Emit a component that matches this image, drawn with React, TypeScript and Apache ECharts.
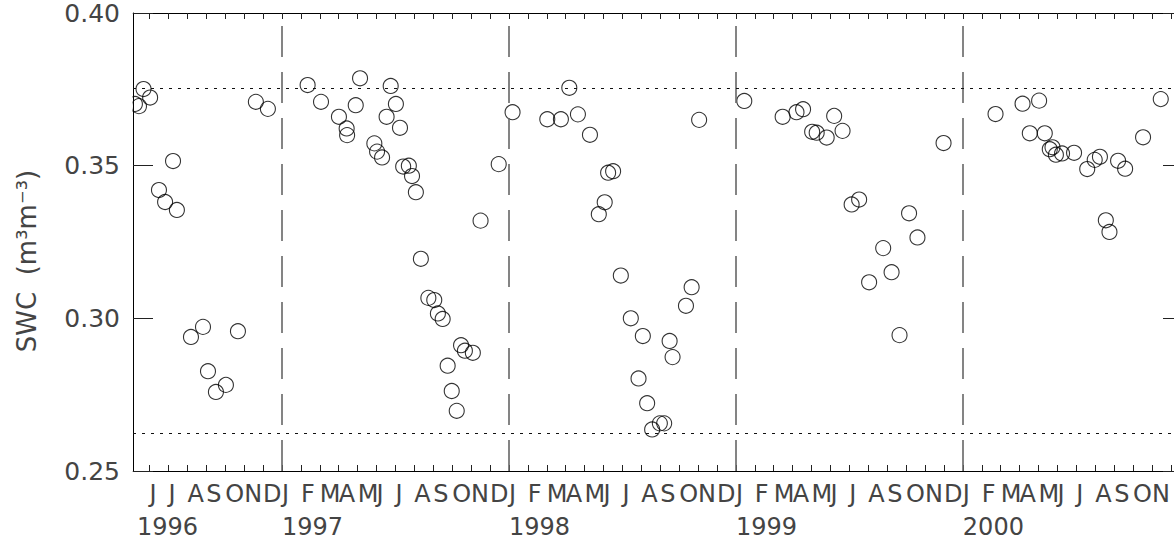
import React, { useEffect, useRef } from "react";
import * as echarts from "echarts";

// Observation times (decimal year) and soil water content (m3 m-3)
const t1996 = [1996.352, 1996.370, 1996.390, 1996.419, 1996.458, 1996.485, 1996.520, 1996.537, 1996.599, 1996.652, 1996.674, 1996.709, 1996.753, 1996.806, 1996.885, 1996.938];
const v1996 = [0.3702, 0.3695, 0.3751, 0.3723, 0.3420, 0.3381, 0.3515, 0.3355, 0.2939, 0.2972, 0.2827, 0.2759, 0.2782, 0.2958, 0.3709, 0.3686];

const t1997 = [1997.113, 1997.172, 1997.251, 1997.285, 1997.287, 1997.325, 1997.344, 1997.407, 1997.419, 1997.441, 1997.461, 1997.479, 1997.502, 1997.520, 1997.534, 1997.559, 1997.573, 1997.590, 1997.612, 1997.645, 1997.671, 1997.687, 1997.708, 1997.730, 1997.748, 1997.770, 1997.789, 1997.806, 1997.841, 1997.875, 1997.955];
const v1997 = [0.3764, 0.3709, 0.3660, 0.3622, 0.3600, 0.3698, 0.3786, 0.3573, 0.3546, 0.3527, 0.3660, 0.3761, 0.3702, 0.3624, 0.3497, 0.3500, 0.3466, 0.3413, 0.3195, 0.3067, 0.3060, 0.3016, 0.2998, 0.2845, 0.2762, 0.2697, 0.2912, 0.2894, 0.2887, 0.3320, 0.3505];

const t1998 = [1998.016, 1998.169, 1998.229, 1998.266, 1998.304, 1998.357, 1998.396, 1998.422, 1998.437, 1998.459, 1998.493, 1998.537, 1998.571, 1998.590, 1998.609, 1998.631, 1998.665, 1998.684, 1998.708, 1998.721, 1998.780, 1998.805, 1998.838];
const v1998 = [0.3675, 0.3652, 0.3652, 0.3755, 0.3668, 0.3601, 0.3341, 0.3380, 0.3477, 0.3482, 0.3140, 0.3000, 0.2803, 0.2942, 0.2722, 0.2636, 0.2656, 0.2656, 0.2926, 0.2873, 0.3041, 0.3102, 0.3650];

const t1999 = [1999.037, 1999.206, 1999.267, 1999.296, 1999.336, 1999.356, 1999.400, 1999.433, 1999.470, 1999.510, 1999.543, 1999.587, 1999.649, 1999.686, 1999.721, 1999.763, 1999.800, 1999.915];
const v1999 = [0.3712, 0.3660, 0.3675, 0.3685, 0.3611, 0.3608, 0.3592, 0.3663, 0.3614, 0.3373, 0.3389, 0.3118, 0.3230, 0.3151, 0.2945, 0.3344, 0.3265, 0.3574];

const t2000 = [2000.144, 2000.263, 2000.295, 2000.336, 2000.361, 2000.383, 2000.395, 2000.410, 2000.437, 2000.490, 2000.548, 2000.581, 2000.604, 2000.630, 2000.646, 2000.684, 2000.715, 2000.794, 2000.872];
const v2000 = [0.3669, 0.3703, 0.3606, 0.3713, 0.3606, 0.3554, 0.3560, 0.3536, 0.3540, 0.3542, 0.3489, 0.3519, 0.3529, 0.3321, 0.3283, 0.3516, 0.3490, 0.3593, 0.3718];

// Axis ranges, reference levels and tick labels
const X_MIN = 1996.3436;
const X_MAX = 2000.97;
const LAST_MONTH_LABEL = 2000.84; // November 2000 is the last visible month letter
const Y_MIN = 0.25;
const Y_MAX = 0.4;
const Y_STEP = 0.05;
const yearBreaks = [1997, 1998, 1999, 2000];
const refLevels = [0.3755, 0.2625];
const monthLetters = ["J", "F", "M", "A", "M", "J", "J", "A", "S", "O", "N", "D"];
const yearLabelValues = [1996.361, 1997, 1998, 1999, 2000];
const yTitle = "SWC  (m³m⁻³)";

const FONT = '"DejaVu Sans"';
const TEXT_COLOR = "#444";

export default function App() {
  const ref = useRef<HTMLDivElement>(null);

  useEffect(() => {
    if (!ref.current) return;
    const chart = echarts.init(ref.current, undefined, { renderer: "svg" });

    const times = [...t1996, ...t1997, ...t1998, ...t1999, ...t2000];
    const vals = [...v1996, ...v1997, ...v1998, ...v1999, ...v2000];
    const points = times.map((t, i) => [t, vals[i]]);

    const monthTicks: number[] = [];
    for (let y = 1996; y <= 2000; y++) {
      for (let m = 0; m < 12; m++) {
        const v = y + m / 12;
        if (v > X_MIN && v < X_MAX) monthTicks.push(v);
      }
    }
    const monthLabelVals = monthTicks.filter((v) => v < LAST_MONTH_LABEL);

    const commonX = {
      type: "value" as const,
      min: X_MIN,
      max: X_MAX,
      splitLine: { show: false },
    };

    const option: any = {
      animation: false,
      backgroundColor: "#fff",
      grid: {
        left: 133,
        top: 13,
        width: 1050,
        height: 458,
        containLabel: false,
        outerBoundsMode: "none",
      },
      xAxis: [
        {
          ...commonX,
          position: "bottom",
          axisLine: { show: true, lineStyle: { color: "#000", width: 1 } },
          axisTick: {
            show: true,
            inside: true,
            length: 6,
            customValues: monthTicks,
            lineStyle: { color: "#222", width: 1 },
          },
          axisLabel: {
            show: true,
            customValues: monthLabelVals,
            align: "left",
            margin: 11,
            fontFamily: FONT,
            fontSize: 24,
            color: TEXT_COLOR,
            formatter: (v: number) => monthLetters[((Math.round(v * 12) % 12) + 12) % 12],
          },
        },
        {
          ...commonX,
          position: "top",
          axisLine: { show: true, lineStyle: { color: "#000", width: 1 } },
          axisTick: {
            show: true,
            inside: true,
            length: 6,
            customValues: monthTicks,
            lineStyle: { color: "#222", width: 1 },
          },
          axisLabel: { show: false },
        },
        {
          ...commonX,
          position: "bottom",
          axisLine: { show: false },
          axisTick: { show: false },
          axisLabel: {
            show: true,
            customValues: yearLabelValues,
            align: "left",
            margin: 44,
            fontFamily: FONT,
            fontSize: 24,
            color: TEXT_COLOR,
            formatter: (v: number) => String(Math.floor(v + 1e-6)),
          },
        },
      ],
      yAxis: [
        {
          type: "value",
          position: "left",
          min: Y_MIN,
          max: Y_MAX,
          interval: Y_STEP,
          splitLine: { show: false },
          axisLine: { show: true, lineStyle: { color: "#000", width: 1 } },
          axisTick: { show: true, inside: true, length: 20, lineStyle: { color: "#222", width: 1 } },
          axisLabel: {
            show: true,
            margin: 13,
            fontFamily: FONT,
            fontSize: 25,
            color: TEXT_COLOR,
            formatter: (v: number) => v.toFixed(2),
          },
        },
        {
          type: "value",
          position: "right",
          min: Y_MIN,
          max: Y_MAX,
          interval: Y_STEP,
          splitLine: { show: false },
          axisLine: { show: true, lineStyle: { color: "#000", width: 1 } },
          axisTick: { show: true, inside: true, length: 20, lineStyle: { color: "#222", width: 1 } },
          axisLabel: { show: false },
        },
      ],
      series: [
        {
          type: "scatter",
          xAxisIndex: 0,
          yAxisIndex: 0,
          data: points,
          symbol: "circle",
          symbolSize: 15,
          itemStyle: { color: "rgba(0,0,0,0)", borderColor: "#000", borderWidth: 1.1 },
          markLine: {
            silent: true,
            precision: 5,
            symbol: ["none", "none"],
            label: { show: false },
            animation: false,
            data: [
              ...yearBreaks.map((yb) => [
                { coord: [yb, Y_MIN], lineStyle: { type: [31, 15], color: "#666", width: 1.6 } },
                { coord: [yb, Y_MAX] },
              ]),
              ...refLevels.map((lv) => ({
                yAxis: lv,
                lineStyle: { type: [3, 6], color: "#111", width: 1 },
              })),
            ],
          },
        },
      ],
      graphic: [
        {
          type: "rect",
          z: 10,
          shape: { x: 120, y: 0, width: 12.5, height: 480 },
          style: { fill: "#fff" },
        },
        {
          type: "text",
          x: 27,
          y: 261,
          rotation: Math.PI / 2,
          z: 11,
          style: {
            text: yTitle,
            font: `26px ${FONT}`,
            fill: TEXT_COLOR,
            align: "center",
            verticalAlign: "middle",
            textAlign: "center",
            textVerticalAlign: "middle",
          },
        },
      ],
    };

    chart.setOption(option);
    return () => chart.dispose();
  }, []);

  return (
    <div
      style={{
        position: "absolute",
        left: 0,
        top: 0,
        width: 1174,
        height: 542,
        overflow: "hidden",
        background: "#fff",
      }}
    >
      <div ref={ref} style={{ width: 1240, height: 542 }} />
    </div>
  );
}
